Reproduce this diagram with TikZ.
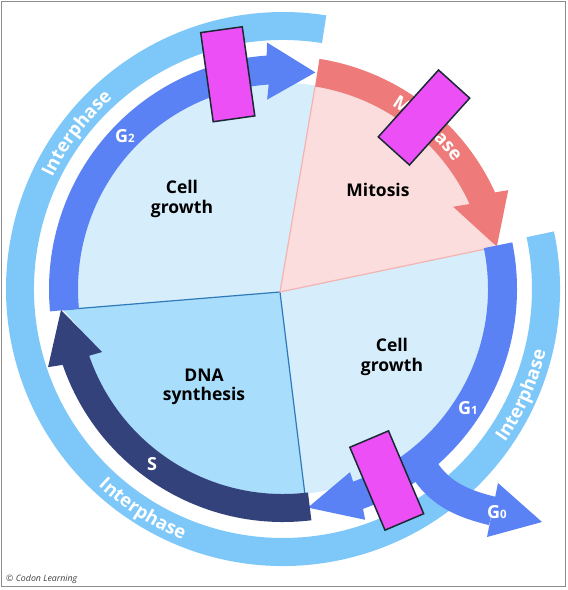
\documentclass[tikz,border=0pt]{standalone}
\usepackage{fontspec}
\setmainfont{Open Sans}
\usepackage{tikz}
\usetikzlibrary{decorations.text}

\definecolor{cellfill}{HTML}{D6EDFC}
\definecolor{dnafill}{HTML}{A8DDFB}
\definecolor{mitfill}{HTML}{FADDDC}
\definecolor{mitedge}{HTML}{F5B3B1}
\definecolor{dnaedge}{HTML}{2F7AB9}
\definecolor{mband}{HTML}{EE7B7A}
\definecolor{gband}{HTML}{5B82F5}
\definecolor{sband}{HTML}{33427B}
\definecolor{interfill}{HTML}{7DC8F8}
\definecolor{tapefill}{HTML}{EB4FF5}
\definecolor{tapeline}{HTML}{1A2A33}
\definecolor{framegray}{HTML}{8C8C8C}

\newcommand{\arcfont}{\bfseries\fontsize{18.5}{21}\selectfont}
\newcommand{\subdigit}[1]{{\fontsize{11.5}{11.5}\selectfont #1}}

\tikzset{
  celltxt/.style={font=\bfseries\fontsize{17.5}{19.5}\selectfont, align=center, text=black, inner sep=0pt},
  gtxt/.style={font=\bfseries\fontsize{18}{20}\selectfont, text=white, inner sep=0pt},
  arctext/.style={decorate, decoration={text along path, text align=center, text color=white}},
  magbox/.style={draw=tapeline, line width=1.5pt, fill=tapefill, minimum width=42pt, minimum height=90pt, inner sep=0pt},
  garm/.style={draw=gband, line width=29pt},
}

\begin{document}
\begin{tikzpicture}[x=1pt,y=1pt]
\useasboundingbox (-283,-301) rectangle (285,289);
\fill[white] (-283,-301) rectangle (285,289);

%Shape: Arc [outer interphase ring]
\fill[interfill] (81:249) arc[start angle=81, end angle=372, radius=249] -- (12:277) arc[start angle=372, end angle=81, radius=277] -- cycle;

%Shape: Circle [cell]
\fill[cellfill] (0,0) circle[radius=206];

%Shape: Sectors
\coordinate (hub) at (-3,-3);
\fill[dnafill] (hub) -- (185.4:221) -- (192:205) arc[start angle=192, end angle=276, radius=205] -- cycle;
\fill[mitfill] (hub) -- (81:205) arc[start angle=81, end angle=24, radius=205] -- (11.2:216) -- cycle;
%Straight Lines
\draw[dnaedge, line width=1.2pt] (185.4:221) -- (hub) -- (276.1:207);
\draw[mitedge, line width=1.2pt] (81:205) -- (hub) -- (11.2:216);

%Shape: Arc Arrow [G2]
\fill[gband] (185.5:205) arc[start angle=185.5, end angle=94, radius=205] -- (94.8:190) -- (81.5:219) -- (93.7:247) -- (94:234) arc[start angle=94, end angle=185.5, radius=234] -- cycle;
%Shape: Arc Arrow [M]
\fill[mband] (81:205) arc[start angle=81, end angle=24.5, radius=205] -- (25.8:189) -- (11.2:218) -- (23.7:246) -- (24.5:233) arc[start angle=24.5, end angle=81, radius=233] -- cycle;
%Shape: Arc Arrow [G1]
\fill[gband] (11.5:205) arc[start angle=11.5, end angle=-70, radius=205] -- (-69.9:195) -- (-83.5:220) -- (-70.4:245) -- (-70:234) arc[start angle=-70, end angle=11.5, radius=234] -- cycle;
%Shape: Arc Arrow [S]
\fill[sband] (277:205) arc[start angle=277, end angle=199, radius=205] -- (199.2:191.6) -- (185.4:223) -- (198.4:247.6) -- (199:233) arc[start angle=199, end angle=277, radius=233] -- cycle;

%Curve Lines [G0 branch]
\draw[garm] (135,-171) -- (143.5,-183.5) .. controls (159.6,-206.4) and (182.3,-215.4) .. (209.5,-222);
\fill[gband] (215,-194) -- (259,-233) -- (204,-248) -- cycle;

% Text Node
\node[celltxt] (growthtop) at (-101,90) {Cell\\growth};
\node[celltxt] (mitosis) at (95,99) {Mitosis};
\node[celltxt] (growthlow) at (109,-68) {Cell\\growth};
\node[celltxt] (dna) at (-79,-98) {DNA\\synthesis};
\node[gtxt] (gtwo) at (-158,153) {G\subdigit{2}};
\node[gtxt] (gone) at (185,-119) {G\subdigit{1}};
\node[gtxt] (gzero) at (214,-223) {G\subdigit{0}};
\node[gtxt] (sphase) at (-131,-175) {S};

% Text along arcs
\path[arctext, decoration={text={|\arcfont|Interphase}}] (163:256) arc[start angle=163, end angle=123, radius=256];
\path[arctext, decoration={text={|\arcfont|Interphase}}] (217.5:270) arc[start angle=217.5, end angle=257.5, radius=270];
\path[arctext, decoration={text={|\arcfont|Interphase}}] (-44:270) arc[start angle=-44, end angle=-4, radius=270];
\path[arctext, decoration={text={|\arcfont|M{\hspace{7pt}} phase}}] (68:213) arc[start angle=68, end angle=28, radius=213];

%Shape: Rectangle [cover tapes]
\node[magbox, rotate=8] (tapeone) at (-55.25,214.75) {};
\node[magbox, rotate=-42] (tapetwo) at (141,171.5) {};
\node[magbox, rotate=23] (tapethree) at (103.75,-191.5) {};

% Text Node
\node[anchor=base west, inner sep=0pt, text=black!75, font=\itshape\fontsize{8.8}{10}\selectfont] (credit) at (-277,-292) {© Codon Learning};

%Shape: Frame
\draw[framegray, line width=1.5pt] (-281.5,-297.5) rectangle (282.5,287.5);

\end{tikzpicture}
\end{document}
